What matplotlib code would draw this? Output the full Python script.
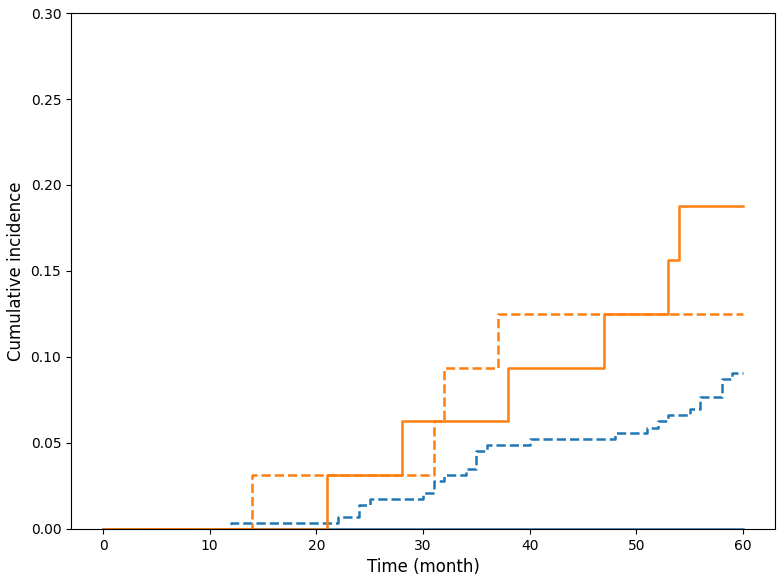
import matplotlib
matplotlib.use("Agg")
import matplotlib.pyplot as plt

# temps (mois) et incidence cumulée pour chaque courbe
blue_solid_t = [0, 60]
blue_solid_y = [0.0, 0.0]

blue_dash_t = [0, 12, 22, 24, 25, 30, 31, 32, 34, 35, 36, 40, 48, 51, 52, 53, 55, 56, 58, 59, 60]
blue_dash_y = [0.0, 0.0035, 0.0069, 0.0139, 0.0174, 0.0208, 0.0278, 0.0313, 0.0347, 0.0451,
               0.0486, 0.0521, 0.0556, 0.0590, 0.0625, 0.0660, 0.0695, 0.0765, 0.0870, 0.0908, 0.0908]

orange_solid_t = [0, 21, 28, 38, 47, 53, 54, 60]
orange_solid_y = [0.0, 0.03125, 0.0625, 0.09375, 0.125, 0.15625, 0.1875, 0.1875]

orange_dash_t = [0, 14, 31, 32, 37, 60]
orange_dash_y = [0.0, 0.03125, 0.0625, 0.09375, 0.125, 0.125]

fig = plt.figure(figsize=(7.84, 5.78), dpi=100)
ax = fig.add_axes([0.0906, 0.0848, 0.8979, 0.8927])

lw = 1.8
ax.plot(blue_solid_t, blue_solid_y, color="#1f77b4", linestyle="-", linewidth=lw, drawstyle="steps-post")
ax.plot(blue_dash_t, blue_dash_y, color="#1f77b4", linestyle="--", linewidth=lw, drawstyle="steps-post")
ax.plot(orange_solid_t, orange_solid_y, color="#ff7f0e", linestyle="-", linewidth=lw, drawstyle="steps-post")
ax.plot(orange_dash_t, orange_dash_y, color="#ff7f0e", linestyle="--", linewidth=lw, drawstyle="steps-post")

ax.set_ylim(0, 0.30)
ax.set_xlabel("Time (month)", fontsize=12)
ax.set_ylabel("Cumulative incidence", fontsize=12)

fig.savefig("out.png", dpi=100)
